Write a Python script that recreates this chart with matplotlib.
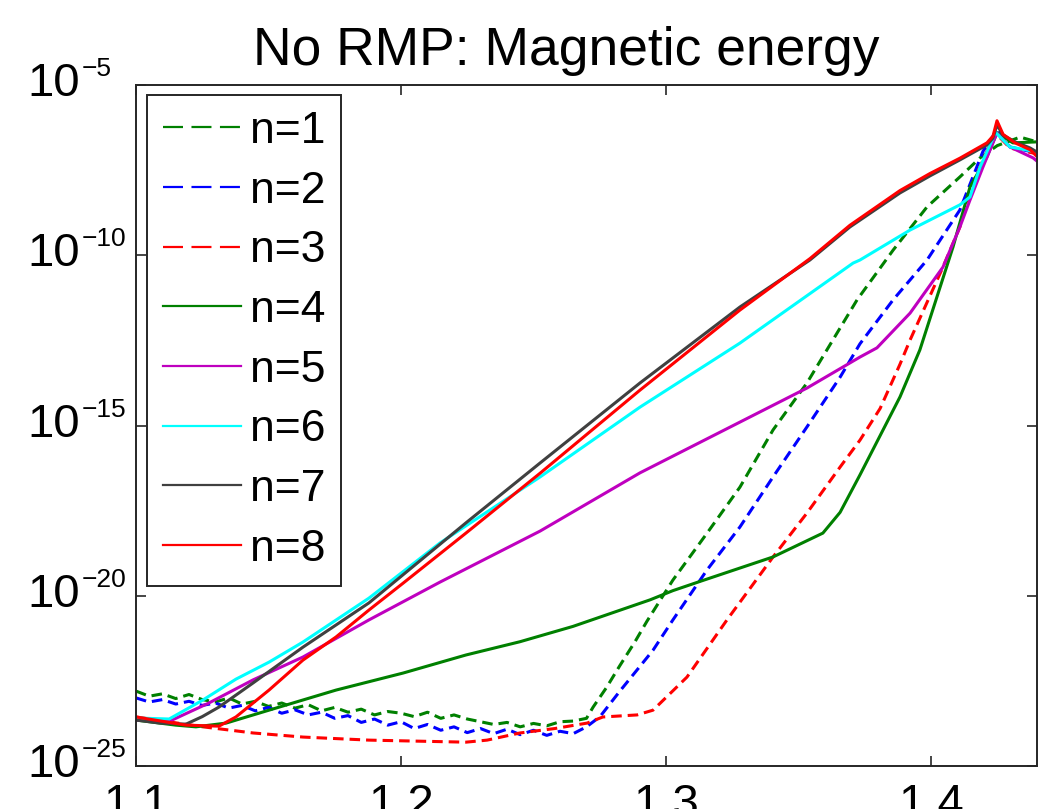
import matplotlib
matplotlib.use("Agg")
import matplotlib.pyplot as plt
import matplotlib.transforms as mtransforms
from matplotlib.lines import Line2D

plt.rcParams['font.family'] = ['Liberation Sans', 'DejaVu Sans']
plt.rcParams['lines.scale_dashes'] = False

# ---- data: x positions and log10 of magnetic energy for each toroidal mode ----
x_noise = [1.100, 1.105, 1.110, 1.115, 1.120, 1.125, 1.130, 1.135, 1.140, 1.145,
           1.150, 1.155, 1.160, 1.165, 1.170, 1.175, 1.180, 1.185, 1.190, 1.195,
           1.200, 1.205, 1.210, 1.215, 1.220, 1.225, 1.230, 1.235, 1.240, 1.245,
           1.250, 1.255, 1.260, 1.265, 1.270]

n1_x = x_noise + [1.2725, 1.2775, 1.2826, 1.2883, 1.2928, 1.3026, 1.3155, 1.3279,
                  1.3404, 1.3532, 1.3721, 1.3857, 1.3985, 1.4109, 1.4185, 1.4250,
                  1.4336, 1.4400]
n1_e = [-22.80, -22.95, -22.88, -23.02, -22.90, -23.05, -23.12, -23.00, -23.18, -23.10,
        -23.25, -23.15, -23.30, -23.20, -23.38, -23.28, -23.42, -23.33, -23.50, -23.40,
        -23.45, -23.55, -23.42, -23.60, -23.50, -23.62, -23.70, -23.78, -23.72, -23.85,
        -23.75, -23.82, -23.70, -23.68, -23.60,
        -23.27, -22.70, -22.05, -21.35, -20.75, -19.54, -18.16, -16.81,
        -15.13, -13.75, -11.31, -9.85, -8.58, -7.70, -7.14, -6.78,
        -6.53, -6.67]

n2_x = x_noise + [1.2751, 1.2826, 1.2951, 1.3026, 1.3155, 1.3279, 1.3404, 1.3532,
                  1.3657, 1.3732, 1.3857, 1.3985, 1.4109, 1.4196, 1.4249, 1.4298,
                  1.4374, 1.4400]
n2_e = [-23.00, -23.12, -23.05, -23.18, -23.10, -23.22, -23.15, -23.30, -23.22, -23.38,
        -23.28, -23.45, -23.35, -23.50, -23.42, -23.60, -23.52, -23.72, -23.62, -23.80,
        -23.70, -23.90, -23.78, -23.95, -23.85, -24.02, -23.90, -24.05, -23.92, -24.08,
        -23.95, -24.10, -23.98, -24.05, -23.85,
        -23.55, -22.80, -21.60, -20.71, -19.24, -17.98, -16.51, -15.04,
        -13.58, -12.60, -11.31, -10.14, -8.67, -6.95, -6.32, -6.82,
        -6.95, -7.00]

n3_x = [1.1000, 1.1253, 1.1442, 1.1630, 1.1879, 1.2245, 1.2325, 1.2449, 1.2580, 1.2702,
        1.2762, 1.2891, 1.2951, 1.3079, 1.3230, 1.3404, 1.3532, 1.3657, 1.3732, 1.3808,
        1.3883, 1.3921, 1.4045, 1.4109, 1.4158, 1.4242, 1.4298, 1.4374, 1.4400]
n3_e = [-23.56, -23.85, -24.03, -24.15, -24.24, -24.30, -24.24, -24.03, -23.90, -23.74,
        -23.56, -23.50, -23.36, -22.39, -20.71, -18.86, -17.57, -16.22, -15.43, -14.50,
        -13.20, -12.49, -10.35, -9.17, -7.88, -6.40, -6.85, -6.98, -7.02]

n4_x = [1.1000, 1.1150, 1.1226, 1.1340, 1.1502, 1.1755, 1.2008, 1.2245, 1.2449, 1.2649,
        1.2940, 1.3026, 1.3128, 1.3404, 1.3592, 1.3657, 1.3732, 1.3883, 1.3958,
        1.4083, 1.4147, 1.4211, 1.4249, 1.4309, 1.4400]
n4_e = [-23.65, -23.80, -23.85, -23.74, -23.36, -22.77, -22.27, -21.74, -21.35, -20.90,
        -20.12, -19.85, -19.58, -18.86, -18.16, -17.55, -16.45, -14.16, -12.78,
        -9.76, -8.00, -7.11, -6.40, -6.70, -6.67]

n5_x = [1.1000, 1.1128, 1.1275, 1.1442, 1.1630, 1.1879, 1.2147, 1.2525, 1.2902, 1.3279,
        1.3532, 1.3732, 1.3796, 1.3921, 1.4045, 1.4109, 1.4147, 1.4196, 1.4249, 1.4298,
        1.4385, 1.4410]
n5_e = [-23.65, -23.68, -23.15, -22.47, -21.80, -20.71, -19.60, -18.10, -16.39, -14.90,
        -13.90, -12.99, -12.72, -11.70, -10.35, -9.17, -8.38, -7.41, -6.41, -6.82,
        -7.14, -7.30]

n6_x = [1.1000, 1.1125, 1.1253, 1.1377, 1.1502, 1.1630, 1.1879, 1.2147, 1.2525, 1.2902,
        1.3279, 1.3706, 1.3732, 1.3921, 1.4109, 1.4147, 1.4185, 1.4234, 1.4242, 1.4298,
        1.4362, 1.4410]
n6_e = [-23.59, -23.62, -23.06, -22.45, -21.95, -21.36, -20.07, -18.45, -16.51, -14.46,
        -12.58, -10.23, -10.14, -9.26, -8.52, -8.29, -7.41, -6.56, -6.38, -6.82,
        -6.91, -7.00]

n7_x = [1.1000, 1.1091, 1.1189, 1.1250, 1.1313, 1.1442, 1.1630, 1.1879, 1.2245, 1.2525,
        1.2902, 1.3279, 1.3543, 1.3694, 1.3883, 1.3996, 1.4109, 1.4211, 1.4234, 1.4249,
        1.4272, 1.4317, 1.4374, 1.4400]
n7_e = [-23.65, -23.74, -23.77, -23.55, -23.27, -22.56, -21.51, -20.21, -17.86, -16.10,
        -13.75, -11.52, -10.14, -9.17, -8.17, -7.67, -7.20, -6.76, -6.56, -6.17,
        -6.47, -6.67, -6.85, -6.97]

n8_x = [1.1000, 1.1189, 1.1313, 1.1377, 1.1502, 1.1630, 1.1755, 1.1879, 1.2008, 1.2245,
        1.2525, 1.2902, 1.3279, 1.3543, 1.3694, 1.3883, 1.3996, 1.4109, 1.4211, 1.4234,
        1.4249, 1.4272, 1.4317, 1.4374, 1.4400]
n8_e = [-23.56, -23.80, -23.83, -23.56, -22.77, -21.89, -21.21, -20.42, -19.63, -18.16,
        -16.40, -13.96, -11.61, -10.10, -9.12, -8.10, -7.60, -7.15, -6.70, -6.50,
        -6.05, -6.45, -6.70, -6.90, -7.10]

labels = ['n=1', 'n=2', 'n=3', 'n=4', 'n=5', 'n=6', 'n=7', 'n=8']
colors = ['#008000', '#0000ff', '#ff0000', '#008000', '#bf00bf', '#00ffff', '#404040', '#ff0000']
dashed = [True, True, True, False, False, False, False, False]
series = [(n1_x, n1_e), (n2_x, n2_e), (n3_x, n3_e), (n4_x, n4_e),
          (n5_x, n5_e), (n6_x, n6_e), (n7_x, n7_e), (n8_x, n8_e)]

title = 'No RMP: Magnetic energy'
xticks = [1.1, 1.2, 1.3, 1.4]
xticklabels = ['1.1', '1.2', '1.3', '1.4']
yexp = [-5, -10, -15, -20, -25]

# ---- figure ----
W, H, DPI = 1046, 809, 100
fig = plt.figure(figsize=(W / DPI, H / DPI), dpi=DPI)
ax = fig.add_axes([136 / W, 1 - 766 / H, 901 / W, 681 / H])

dash_plot = (7.6, 4.3)
for (xs, es), c, d in zip(series, colors, dashed):
    ys = [10.0 ** e for e in es]
    if d:
        ax.plot(xs, ys, color=c, lw=2.2, linestyle=(0, dash_plot))
    else:
        ax.plot(xs, ys, color=c, lw=2.2)

ax.set_yscale('log')
ax.set_xlim(1.1, 1.44)
ax.set_ylim(1e-25, 1e-5)
ax.set_xticks(xticks)
ax.set_xticklabels(xticklabels)
ax.set_yticks([10.0 ** e for e in yexp])
ax.set_yticklabels([])
ax.yaxis.set_minor_locator(matplotlib.ticker.NullLocator())
ax.tick_params(axis='both', which='major', direction='in', length=7, width=1.2,
               top=True, right=True, labelsize=34, pad=12, colors='#262626',
               labelcolor='black')
for s in ax.spines.values():
    s.set_linewidth(1.4)
    s.set_color('#262626')

# y tick labels drawn as base + small exponent
tr = mtransforms.blended_transform_factory(ax.transAxes, ax.transData)
for e in yexp:
    base_off = mtransforms.ScaledTranslation(0, 1 / DPI, fig.dpi_scale_trans)
    exp_off = mtransforms.ScaledTranslation(0, 16 / DPI, fig.dpi_scale_trans)
    ax.text(-56 / 901, 10.0 ** e, '10', ha='right', va='center', fontsize=34,
            transform=tr + base_off, clip_on=False)
    ax.text(-54 / 901, 10.0 ** e, '\u2212' + str(-e), ha='left', va='center',
            fontsize=19, transform=tr + exp_off, clip_on=False)

fig.text(566 / W, 1 - 65 / H, title, ha='center', va='baseline', fontsize=38.4)

# legend with longer dashes in the sample lines
handles = []
for c, d in zip(colors, dashed):
    if d:
        handles.append(Line2D([], [], color=c, lw=1.6, linestyle=(0, (14.4, 6.1))))
    else:
        handles.append(Line2D([], [], color=c, lw=1.6))
leg = ax.legend(handles, labels, loc='upper left',
                bbox_to_anchor=(147 / W, 1 - 95 / H), bbox_transform=fig.transFigure,
                fontsize=32, frameon=True, fancybox=False, borderaxespad=0,
                handlelength=1.75, handletextpad=0.2, labelspacing=0.42,
                borderpad=0.36, framealpha=1)
leg.get_frame().set_edgecolor('#262626')
leg.get_frame().set_linewidth(1.4)

fig.savefig('out.png', dpi=DPI)
